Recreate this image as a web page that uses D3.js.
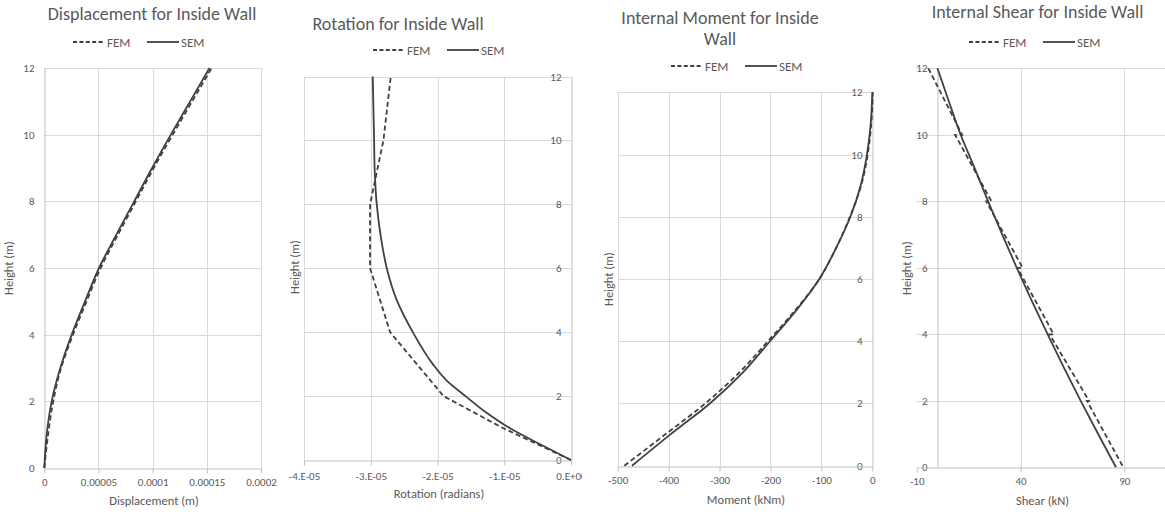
<!DOCTYPE html>
<html lang="en">
<head>
<meta charset="utf-8">
<title>Inside Wall</title>
<script src="https://cdn.jsdelivr.net/npm/d3@7"></script>
<style>
  body { margin: 0; background: #fff; }
</style>
</head>
<body>
<script>
var FONT = "Carlito, Calibri, Lato, sans-serif";
var TXT = "#595959";
var INK = "#404040";

// heights (m), shared by all four charts
var heightTicks = [0, 2, 4, 6, 8, 10, 12];

// Displacement
var dispH   = [0, 1, 2, 3, 4, 5, 6, 7, 8, 9, 10, 11, 12];
var dispFEM = [0, 3.5e-6, 8.2e-6, 1.55e-5, 2.65e-5, 3.9e-5, 5.2e-5, 6.8e-5, 8.45e-5, 1.01e-4, 1.185e-4, 1.365e-4, 1.545e-4];
var dispSEM = [0, 2.2e-6, 6.8e-6, 1.48e-5, 2.53e-5, 3.76e-5, 5.05e-5, 6.65e-5, 8.3e-5, 9.95e-5, 1.168e-4, 1.346e-4, 1.525e-4];
var dispTicks  = [0, 0.00005, 0.0001, 0.00015, 0.0002];
var dispLabels = ["0", "0.00005", "0.0001", "0.00015", "0.0002"];

// Rotation
var rotFemH = [0, 1, 2, 4, 6, 8, 10, 12];
var rotFEM  = [0, -1.02e-5, -1.91e-5, -2.71e-5, -3.01e-5, -3.01e-5, -2.81e-5, -2.70e-5];
var rotSemH = [0, 0.5, 1, 1.5, 2, 2.5, 3, 4, 5, 6, 7, 8, 9, 10, 11, 12];
var rotSEM  = [0, -0.47e-5, -0.92e-5, -1.28e-5, -1.58e-5, -1.87e-5, -2.07e-5, -2.37e-5, -2.61e-5, -2.76e-5, -2.85e-5, -2.91e-5, -2.94e-5, -2.95e-5, -2.96e-5, -2.97e-5];
var rotTicks  = [-4e-5, -3e-5, -2e-5, -1e-5, 0];
var rotLabels = ["-4.E-05", "-3.E-05", "-2.E-05", "-1.E-05", "0.E+00"];

// Internal moment
var momH   = [0, 1, 2, 3, 4, 5, 6, 7, 8, 9, 10, 11, 12];
var momFEM = [-487, -407, -328, -261, -205, -151, -104, -71, -44, -22, -9, -2, 1];
var momSEM = [-472, -397, -319, -254, -201, -149, -104, -71, -43, -23, -10.5, -3, 0];
var momTicks  = [-500, -400, -300, -200, -100, 0];
var momLabels = ["-500", "-400", "-300", "-200", "-100", "0"];

// Internal shear
var shearFemH = [12, 10, 10, 8, 8, 6, 6, 4, 4, 2, 2, 0];
var shearFEM  = [-4.4, 11.9, 8.5, 26, 23.5, 41, 38.5, 56, 54, 73, 72, 89.5];
var shearSemH = [0, 1, 2, 3, 4, 5, 6, 7, 8, 9, 10, 11, 12];
var shearSEM  = [86, 77.4, 69, 60.9, 53.1, 45.5, 38.2, 31.2, 24.4, 17.9, 11.2, 5.5, 0];
var shearTicks  = [-10, 40, 90];
var shearLabels = ["-10", "40", "90"];

var svg = d3.select("body").append("svg")
  .attr("width", 1165)
  .attr("height", 515);
var defs = svg.append("defs");

function pts(hs, vs) {
  return hs.map(function(h, i) { return [vs[i], h]; });
}

function drawPanel(p) {
  defs.append("clipPath").attr("id", "clip" + p.id)
    .append("rect").attr("x", p.left).attr("y", 0)
    .attr("width", p.right - p.left).attr("height", 515);

  var g = svg.append("g").attr("clip-path", "url(#clip" + p.id + ")");

  var x = d3.scaleLinear().domain(p.xDomain).range(p.xRange);
  var y = d3.scaleLinear().domain([0, 12]).range(p.yRange);

  // gridlines
  g.selectAll(".hg").data(heightTicks.filter(function(d) { return d > 0; }))
    .enter().append("line")
    .attr("x1", p.xRange[0]).attr("x2", p.xRange[1])
    .attr("y1", function(d) { return Math.round(y(d)) + 0.5; })
    .attr("y2", function(d) { return Math.round(y(d)) + 0.5; })
    .attr("stroke", "#d9d9d9");
  g.selectAll(".vg").data(p.gridX)
    .enter().append("line")
    .attr("x1", function(d) { return Math.round(x(d)) + 0.5; })
    .attr("x2", function(d) { return Math.round(x(d)) + 0.5; })
    .attr("y1", y(0)).attr("y2", y(12))
    .attr("stroke", "#d9d9d9");

  // vertical axis (crosses at 0)
  var yAxis = g.append("g")
    .attr("transform", "translate(" + (Math.round(x(0)) + 0.5) + ",0)")
    .call(d3.axisLeft(y).tickValues(heightTicks).tickSize(0).tickSizeOuter(0).tickPadding(10));
  yAxis.attr("font-family", FONT).attr("font-size", 11).attr("color", TXT);
  yAxis.select(".domain").attr("stroke", "#bfbfbf");

  // horizontal axis
  var xAxis = g.append("g")
    .attr("transform", "translate(0," + (Math.round(y(0)) + 0.5) + ")")
    .call(d3.axisBottom(x).tickValues(p.xTicks)
      .tickFormat(function(d, i) { return p.xLabels[i]; })
      .tickSize(5).tickSizeOuter(0).tickPadding(p.pad));
  xAxis.attr("font-family", FONT).attr("font-size", 11).attr("color", TXT);
  xAxis.selectAll("line").attr("stroke", "#bfbfbf");
  xAxis.select(".domain").attr("stroke", "#bfbfbf");

  // series
  var line = d3.line()
    .x(function(d) { return x(d[0]); })
    .y(function(d) { return y(d[1]); });

  g.append("path").datum(pts(p.femH, p.fem))
    .attr("d", line.curve(p.femCurve))
    .attr("fill", "none").attr("stroke", INK)
    .attr("stroke-width", 1.8).attr("stroke-dasharray", "5,3");
  g.append("path").datum(pts(p.semH, p.sem))
    .attr("d", line.curve(d3.curveMonotoneY))
    .attr("fill", "none").attr("stroke", INK)
    .attr("stroke-width", 1.8);

  // title
  p.title.forEach(function(t, i) {
    g.append("text").text(t)
      .attr("x", p.titleX).attr("y", p.titleY + i * 21)
      .attr("text-anchor", "middle")
      .attr("font-family", FONT).attr("font-size", 18).attr("fill", TXT);
  });

  // legend
  var lx = p.legendX, ly = p.legendY;
  g.append("line").attr("x1", lx).attr("x2", lx + 32).attr("y1", ly).attr("y2", ly)
    .attr("stroke", INK).attr("stroke-width", 1.8).attr("stroke-dasharray", "4,2.4");
  g.append("text").text("FEM").attr("x", lx + 34).attr("y", ly + 4.5)
    .attr("font-family", FONT).attr("font-size", 13).attr("fill", TXT);
  g.append("line").attr("x1", lx + 74).attr("x2", lx + 106).attr("y1", ly).attr("y2", ly)
    .attr("stroke", INK).attr("stroke-width", 1.8);
  g.append("text").text("SEM").attr("x", lx + 108).attr("y", ly + 4.5)
    .attr("font-family", FONT).attr("font-size", 13).attr("fill", TXT);

  // axis titles
  g.append("text").text(p.xTitle)
    .attr("x", p.xTitleX).attr("y", p.xTitleY)
    .attr("text-anchor", "middle")
    .attr("font-family", FONT).attr("font-size", 12.5).attr("fill", TXT);
  g.append("text").text("Height (m)")
    .attr("transform", "translate(" + p.yTitleX + "," + p.yTitleY + ") rotate(-90)")
    .attr("text-anchor", "middle")
    .attr("font-family", FONT).attr("font-size", 12.5).attr("fill", TXT);
}

drawPanel({
  id: 1, left: 0, right: 287,
  xDomain: [0, 0.0002], xRange: [44.3, 261], yRange: [468, 68],
  xTicks: dispTicks, xLabels: dispLabels, gridX: dispTicks.slice(1), pad: 5,
  femH: dispH, fem: dispFEM, femCurve: d3.curveMonotoneY, semH: dispH, sem: dispSEM,
  title: ["Displacement for Inside Wall"], titleX: 152, titleY: 20,
  legendX: 73, legendY: 42,
  xTitle: "Displacement (m)", xTitleX: 154, xTitleY: 505,
  yTitleX: 13, yTitleY: 268
});

drawPanel({
  id: 2, left: 287, right: 582,
  xDomain: [-4e-5, 0], xRange: [304, 571], yRange: [460, 76.5],
  xTicks: rotTicks, xLabels: rotLabels, gridX: rotTicks.slice(0, 4), pad: 7,
  femH: rotFemH, fem: rotFEM, femCurve: d3.curveLinear, semH: rotSemH, sem: rotSEM,
  title: ["Rotation for Inside Wall"], titleX: 398, titleY: 29.5,
  legendX: 373, legendY: 50,
  xTitle: "Rotation (radians)", xTitleX: 439, xTitleY: 498,
  yTitleX: 299, yTitleY: 267
});

drawPanel({
  id: 3, left: 582, right: 882,
  xDomain: [-500, 0], xRange: [617.7, 872.3], yRange: [465.7, 92.3],
  xTicks: momTicks, xLabels: momLabels, gridX: momTicks.slice(0, 5), pad: 5,
  femH: momH, fem: momFEM, femCurve: d3.curveMonotoneY, semH: momH, sem: momSEM,
  title: ["Internal Moment for Inside", "Wall"], titleX: 720, titleY: 23.5,
  legendX: 671, legendY: 66,
  xTitle: "Moment (kNm)", xTitleX: 746, xTitleY: 504,
  yTitleX: 613, yTitleY: 279
});

drawPanel({
  id: 4, left: 882, right: 1165,
  xDomain: [-10, 140], xRange: [916.7, 1228.1], yRange: [467.3, 68.3],
  xTicks: shearTicks, xLabels: shearLabels, gridX: shearTicks.slice(1), pad: 5,
  femH: shearFemH, fem: shearFEM, femCurve: d3.curveLinear, semH: shearSemH, sem: shearSEM,
  title: ["Internal Shear for Inside Wall"], titleX: 1037.5, titleY: 17.5,
  legendX: 969, legendY: 42,
  xTitle: "Shear (kN)", xTitleX: 1042.5, xTitleY: 505,
  yTitleX: 911, yTitleY: 268
});
</script>
</body>
</html>
